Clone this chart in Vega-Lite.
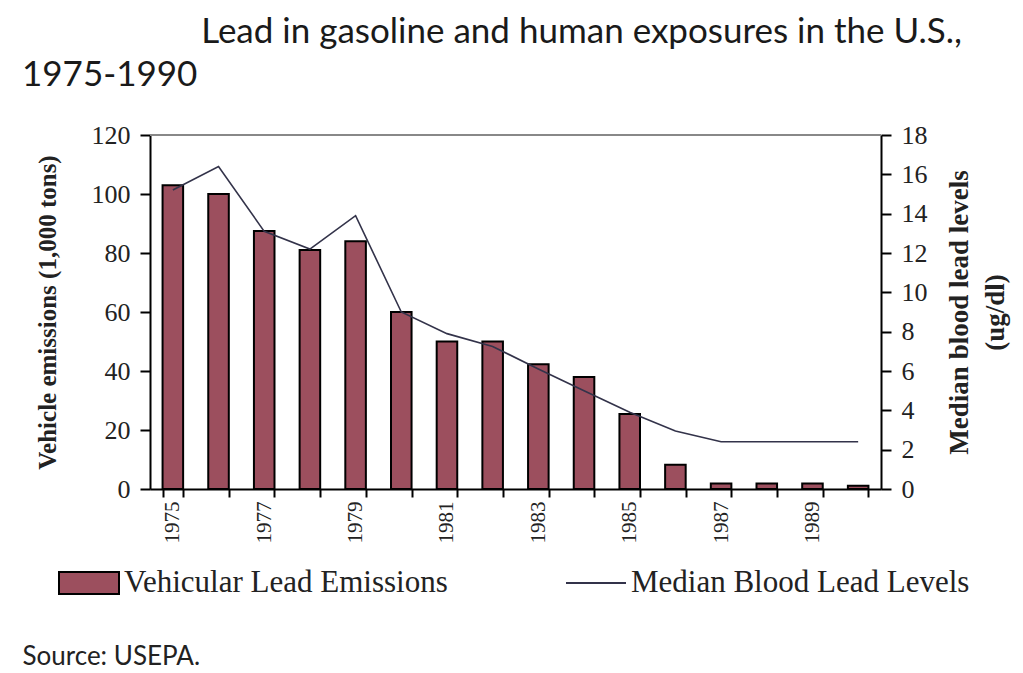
{
  "$schema": "https://vega.github.io/schema/vega-lite/v6.json",
  "width": 731,
  "height": 354,
  "autosize": {"type": "none"},
  "padding": {"left": 150, "top": 135, "right": 142, "bottom": 184},
  "background": "white",
  "title": {
    "text": ["\u200b\u00a0\u00a0\u00a0\u00a0\u00a0\u00a0\u00a0\u00a0\u00a0\u00a0\u00a0\u00a0\u00a0\u00a0\u00a0\u00a0\u00a0\u00a0\u00a0\u00a0Lead in gasoline and human exposures in the U.S.,", "1975-1990"],
    "anchor": "start",
    "frame": "group",
    "dx": -128,
    "offset": 29,
    "font": "Lato",
    "fontSize": 35,
    "fontWeight": "normal",
    "color": "#1a1a1a",
    "lineHeight": 43
  },
  "config": {
    "view": {"stroke": null},
    "axis": {"domainColor": "black", "tickColor": "black", "domainWidth": 2, "tickWidth": 2, "labelColor": "#222", "titleColor": "#222", "grid": false}
  },
  "data": {
    "values": [
      {"year": 1975, "emissions": 103, "blood": 15.2},
      {"year": 1976, "emissions": 100, "blood": 16.4},
      {"year": 1977, "emissions": 87.5, "blood": 13.1},
      {"year": 1978, "emissions": 81, "blood": 12.2},
      {"year": 1979, "emissions": 84, "blood": 13.9},
      {"year": 1980, "emissions": 60, "blood": 9.0},
      {"year": 1981, "emissions": 50, "blood": 7.9},
      {"year": 1982, "emissions": 50, "blood": 7.25},
      {"year": 1983, "emissions": 42.3, "blood": 6.1},
      {"year": 1984, "emissions": 38, "blood": 5.0},
      {"year": 1985, "emissions": 25.4, "blood": 3.9},
      {"year": 1986, "emissions": 8.2, "blood": 2.95},
      {"year": 1987, "emissions": 1.9, "blood": 2.4},
      {"year": 1988, "emissions": 1.9, "blood": 2.4},
      {"year": 1989, "emissions": 1.9, "blood": 2.4},
      {"year": 1990, "emissions": 1.1, "blood": 2.4}
    ]
  },
  "layer": [
    {
      "mark": {"type": "bar", "fill": "#9c4f5e", "stroke": "black", "strokeWidth": 2},
      "encoding": {
        "x": {
          "field": "year",
          "type": "ordinal",
          "scale": {"paddingInner": 0.55, "paddingOuter": 0.275},
          "axis": {
            "tickBand": "extent",
            "tickSize": 8,
            "labelAngle": -90,
            "labelAlign": "right",
            "labelBaseline": "middle",
            "labelFont": "Liberation Serif",
            "labelFontSize": 21,
            "labelPadding": 4,
            "labelExpr": "datum.value % 2 == 1 ? datum.label : ''",
            "title": "Source: USEPA.",
            "titleFont": "Lato",
            "titleFontSize": 26,
            "titleFontWeight": "normal",
            "titleAlign": "left",
            "titleBaseline": "middle",
            "titleAnchor": "start",
            "titleX": -128,
            "titleY": 167
          }
        },
        "y": {
          "field": "emissions",
          "type": "quantitative",
          "scale": {"domain": [0, 120], "nice": false},
          "axis": {
            "values": [0, 20, 40, 60, 80, 100, 120],
            "tickSize": 10,
            "labelPadding": 10,
            "labelFont": "Liberation Serif",
            "labelFontSize": 26,
            "title": "Vehicle emissions (1,000 tons)",
            "titleFont": "Liberation Serif",
            "titleFontSize": 25,
            "titleFontWeight": "bold",
            "titlePadding": 31
          }
        },
        "fill": {
          "datum": "Vehicular Lead Emissions",
          "type": "nominal",
          "scale": {"range": ["#9c4f5e"]},
          "legend": {
            "title": null,
            "orient": "none",
            "legendX": -92,
            "legendY": 417,
            "symbolType": "M-1,-0.37H1V0.37H-1Z",
            "symbolSize": 3600,
            "symbolStrokeColor": "black",
            "symbolStrokeWidth": 2,
            "labelFont": "Liberation Serif",
            "labelFontSize": 31,
            "labelColor": "#222",
            "labelOffset": 4,
            "labelLimit": 500
          }
        }
      }
    },
    {
      "mark": {"type": "line", "stroke": "#33334a", "strokeWidth": 1.6},
      "encoding": {
        "x": {"field": "year", "type": "ordinal"},
        "y": {
          "field": "blood",
          "type": "quantitative",
          "scale": {"domain": [0, 18], "nice": false},
          "axis": {
            "orient": "right",
            "values": [0, 2, 4, 6, 8, 10, 12, 14, 16, 18],
            "tickSize": 10,
            "labelPadding": 10,
            "labelFont": "Liberation Serif",
            "labelFontSize": 26,
            "title": ["Median blood lead levels", "(ug/dl)"],
            "titleAngle": -90,
            "titleFont": "Liberation Serif",
            "titleFontSize": 27,
            "titleFontWeight": "bold",
            "titleLineHeight": 36,
            "titlePadding": 10
          }
        },
        "stroke": {
          "datum": "Median Blood Lead Levels",
          "type": "nominal",
          "scale": {"range": ["#33334a"]},
          "legend": {
            "title": null,
            "orient": "none",
            "legendX": 415,
            "legendY": 417,
            "symbolType": "stroke",
            "symbolSize": 3600,
            "symbolStrokeWidth": 2,
            "labelFont": "Liberation Serif",
            "labelFontSize": 31,
            "labelColor": "#222",
            "labelOffset": 4,
            "labelLimit": 500
          }
        }
      }
    },
    {
      "mark": {"type": "rule", "stroke": "#888", "strokeWidth": 2},
      "encoding": {
        "y": {"datum": 120, "type": "quantitative", "scale": {"domain": [0, 120], "nice": false}, "axis": null}
      }
    }
  ],
  "resolve": {"scale": {"y": "independent", "fill": "independent", "stroke": "independent"}}
}
